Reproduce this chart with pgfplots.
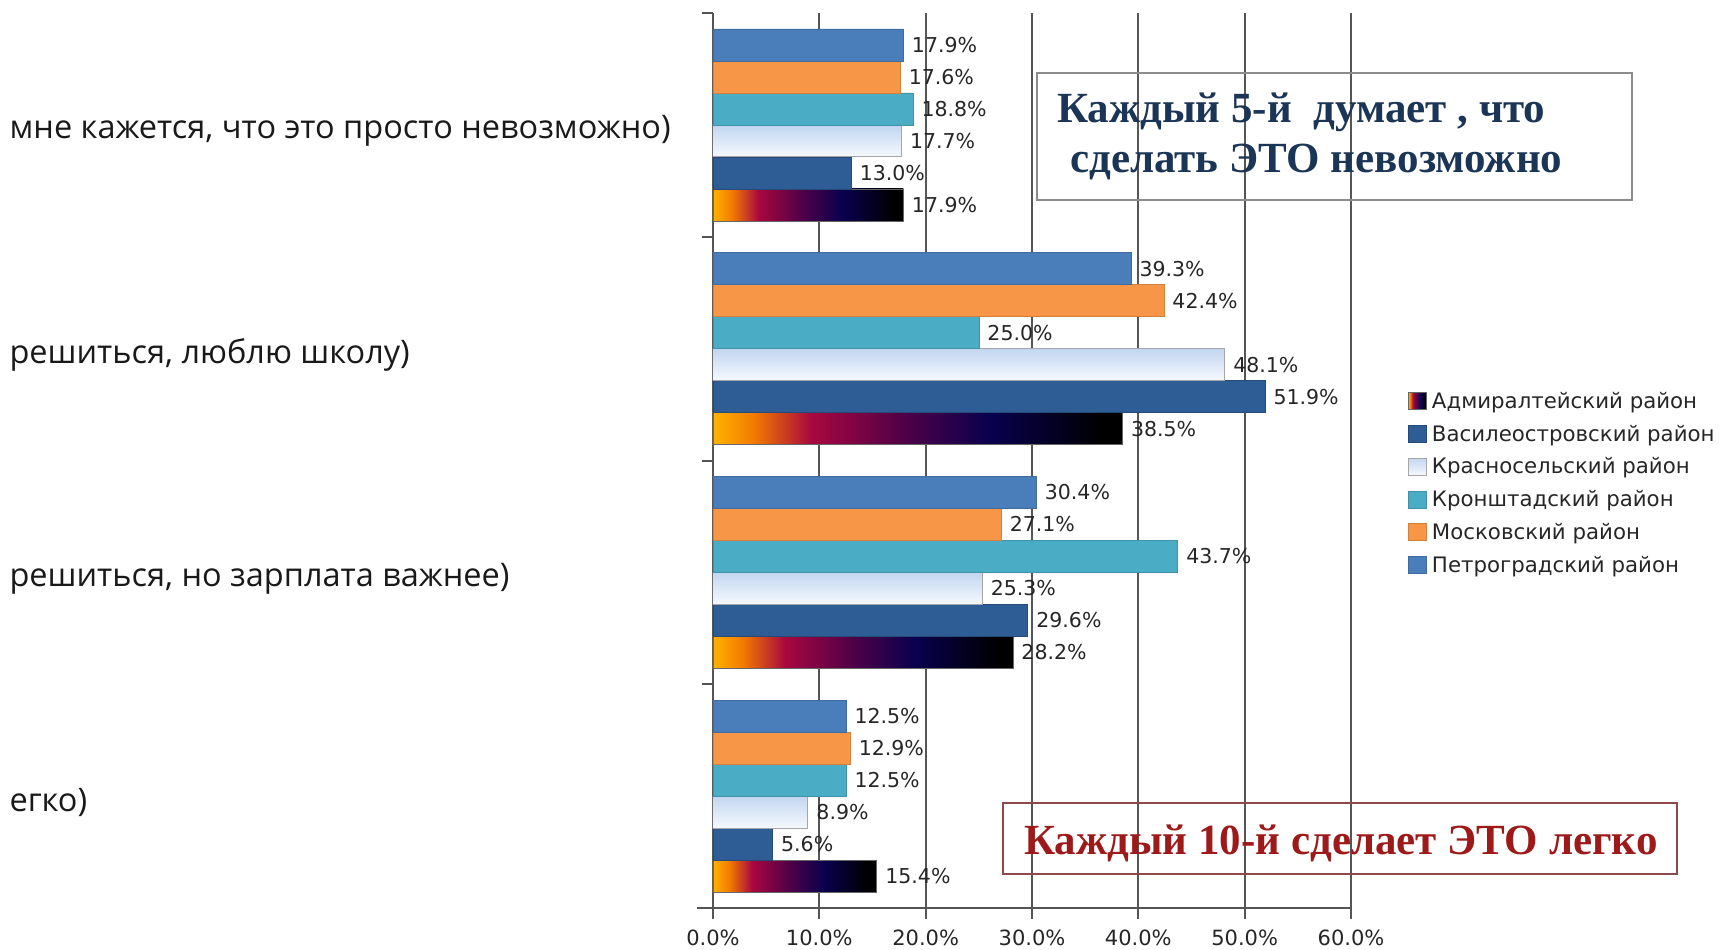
\documentclass[border=0pt]{standalone}
\usepackage{pgfplots}
\usepackage{pgfplotstable}
\pgfplotsset{compat=1.18}
\usepackage{fontspec}
\setmainfont{DejaVu Sans}
\newfontfamily\catfont{Open Sans}
\newfontfamily\boxfont{Liberation Serif}

\definecolor{cPetr}{HTML}{4A7EBB}
\definecolor{cMosk}{HTML}{F79646}
\definecolor{cKron}{HTML}{4BACC6}
\definecolor{cKrasTop}{HTML}{C2D6F0}
\definecolor{cKrasBot}{HTML}{F6F9FE}
\definecolor{cVas}{HTML}{2E5D95}
\definecolor{gA}{HTML}{FFB300}
\definecolor{gB}{HTML}{F27A00}
\definecolor{gC}{HTML}{A8083F}
\definecolor{gD}{HTML}{4A0048}
\definecolor{gE}{HTML}{08004E}
\definecolor{gridc}{HTML}{555555}
\definecolor{boxblue}{HTML}{1B3556}
\definecolor{boxred}{HTML}{9E1A1A}
\definecolor{boxredline}{HTML}{8E4A4A}

% left to right: orange, crimson, purple, navy, black (25bp..75bp = bar)
\pgfdeclarehorizontalshading{admshade}{100bp}{color(0bp)=(gA); color(25bp)=(gA);
  color(30bp)=(gB); color(37bp)=(gC); color(49bp)=(gD); color(59bp)=(gE);
  color(72.5bp)=(black); color(100bp)=(black)}

% groups: 0 = легко, 1 = зарплата важнее, 2 = люблю школу, 3 = невозможно
\pgfplotstableread{
g petr mosk kron vas
0 12.5 12.9 12.5 5.6
1 30.4 27.1 43.7 29.6
2 39.3 42.4 25.0 51.9
3 17.9 17.6 18.8 13.0
}\datatable

\pgfplotsset{
  adm/.style={bar shift=-0.3575, shading=admshade, draw=black!60, line width=0.6pt},
  kras/.style={bar shift=-0.0715, top color=cKrasTop, bottom color=cKrasBot, draw=black!35, line width=1pt},
}

\begin{document}
\begin{tikzpicture}
\useasboundingbox (0,0) rectangle (1721pt,-950pt);
\begin{axis}[
    at={(713pt,-908pt)}, anchor=south west,
    scale only axis,
    width=638pt, height=895pt,
    xbar, bar width=0.143,
    xmin=0, xmax=60, ymin=-0.5, ymax=3.5,
    axis x line*=bottom, axis y line*=left,
    axis line style={gridc, line width=2pt},
    x axis line style={shorten <=-16pt},
    xtick={0,10,...,60},
    xticklabels={0.0\%,10.0\%,20.0\%,30.0\%,40.0\%,50.0\%,60.0\%},
    xticklabel style={font=\fontsize{21}{25}\selectfont, text=black!85, yshift=-7pt},
    xmajorgrids,
    grid style={gridc, line width=1.8pt},
    tick align=outside,
    major tick length=11pt,
    tick style={gridc, line width=2pt},
    ytick={-0.5,0.5,1.5,2.5,3.5},
    yticklabels={},
    extra y ticks={0,1,2,3},
    extra y tick labels={егко),{решиться, но зарплата важнее)},{решиться, люблю школу)},{мне кажется, что это просто невозможно)}},
    extra y tick style={major tick length=0pt,
        yticklabel style={anchor=west, xshift=-707pt, yshift=-6pt, font=\catfont\fontsize{32.5}{38}\selectfont, text=black!90}},
    point meta=x,
    nodes near coords={\pgfmathprintnumber[fixed,fixed zerofill,precision=1,assume math mode=true]{\pgfplotspointmeta}\%},
    nodes near coords style={anchor=west, xshift=5pt, font=\fontsize{20.5}{24}\selectfont, text=black!85},
    legend cell align=left,
    legend style={at={(axis description cs:1.089,0.5765)}, anchor=north west,
        draw=none, fill=none, font=\fontsize{21.3}{25}\selectfont, text=black!85,
        row sep=15pt, inner sep=0pt, nodes={inner xsep=5pt, inner ysep=0pt}},
    legend image code/.code={\draw[#1] (0pt,-8.5pt) rectangle (18pt,8.5pt);},
]
% Адмиралтейский: one plot per bar so that each bar gets its own gradient
\addplot[adm] coordinates {(15.4,0)};
\addlegendentry{Адмиралтейский район}
\addplot[adm, forget plot] coordinates {(28.2,1)};
\addplot[adm, forget plot] coordinates {(38.5,2)};
\addplot[adm, forget plot] coordinates {(17.9,3)};
\addplot[bar shift=-0.2145, fill=cVas, draw=cVas!80!black, line width=0.6pt] table[x=vas, y=g] \datatable;
\addlegendentry{Василеостровский район}
\addplot[kras] coordinates {(8.9,0)};
\addlegendentry{Красносельский район}
\addplot[kras, forget plot] coordinates {(25.3,1)};
\addplot[kras, forget plot] coordinates {(48.1,2)};
\addplot[kras, forget plot] coordinates {(17.7,3)};
\addplot[bar shift=0.0715, fill=cKron, draw=cKron!85!black, line width=0.6pt] table[x=kron, y=g] \datatable;
\addlegendentry{Кронштадский район}
\addplot[bar shift=0.2145, fill=cMosk, draw=cMosk!85!black, line width=0.6pt] table[x=mosk, y=g] \datatable;
\addlegendentry{Московский район}
\addplot[bar shift=0.3575, fill=cPetr, draw=cPetr!85!black, line width=0.6pt] table[x=petr, y=g] \datatable;
\addlegendentry{Петроградский район}
\end{axis}
% annotation boxes
\draw[black!45, line width=2.5pt] (1037pt,-73pt) rectangle (1632pt,-200pt);
\node[anchor=base west, inner sep=0pt, text=boxblue, font=\boxfont\bfseries\fontsize{43}{50}\selectfont] at (1057pt,-122pt) {Каждый 5-й\ \ думает , что};
\node[anchor=base west, inner sep=0pt, text=boxblue, font=\boxfont\bfseries\fontsize{43}{50}\selectfont] at (1070pt,-172pt) {сделать ЭТО невозможно};
\draw[boxredline, line width=2.5pt] (1003pt,-803pt) rectangle (1677pt,-874pt);
\node[anchor=base west, inner sep=0pt, text=boxred, font=\boxfont\bfseries\fontsize{43}{50}\selectfont] at (1024pt,-854pt) {Каждый 10-й сделает ЭТО легко};
\end{tikzpicture}
\end{document}
